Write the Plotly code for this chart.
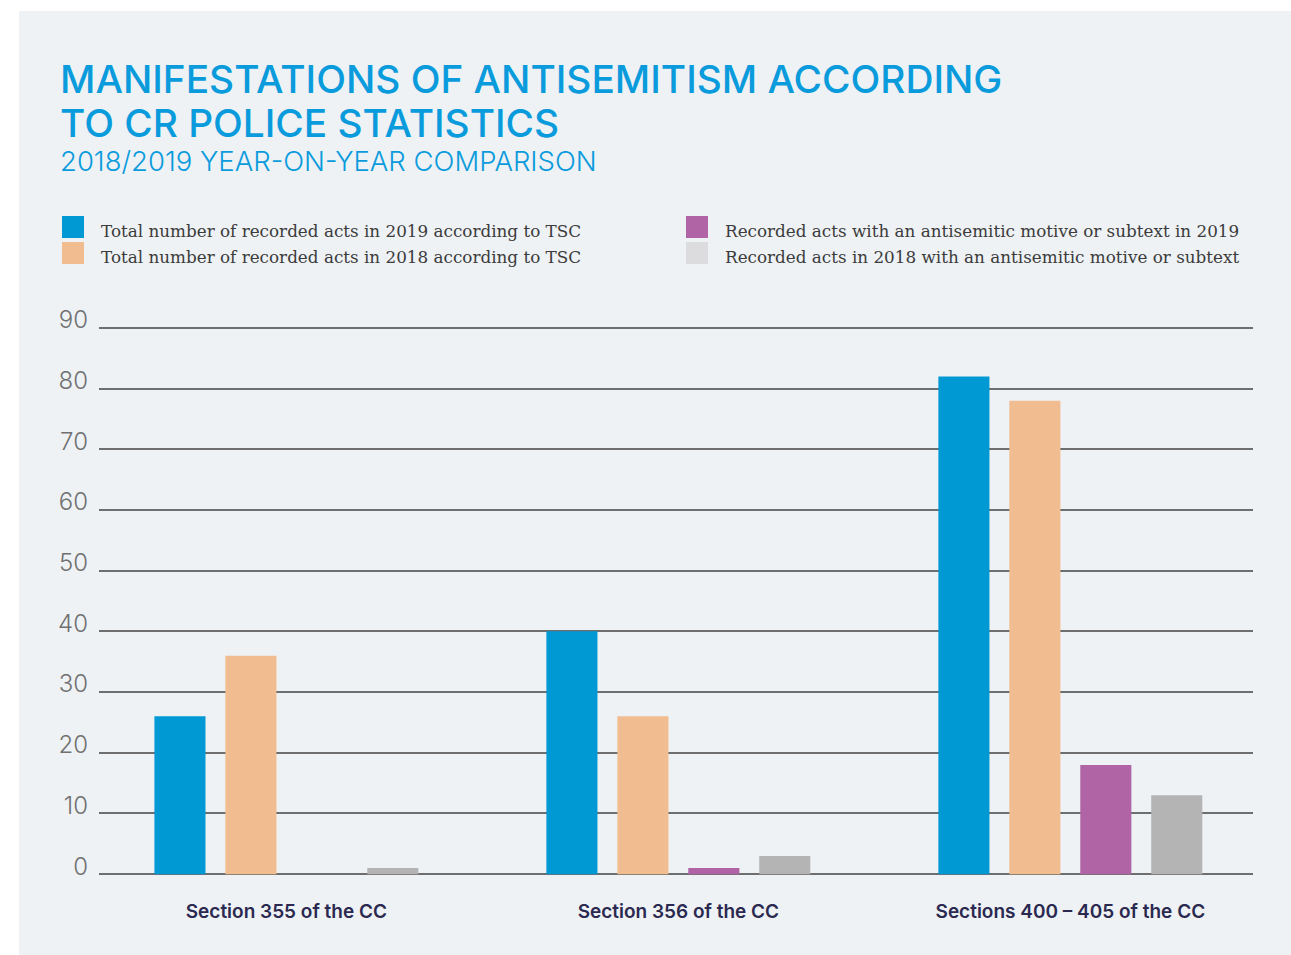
import plotly.graph_objects as go

# ---- data ----
categories = ["Section 355 of the CC", "Section 356 of the CC", "Sections 400 – 405 of the CC"]
series_names = [
    "Total number of recorded acts in 2019 according to TSC",
    "Total number of recorded acts in 2018 according to TSC",
    "Recorded acts with an antisemitic motive or subtext in 2019",
    "Recorded acts in 2018 with an antisemitic motive or subtext",
]
total_2019 = [26, 40, 82]
total_2018 = [36, 26, 78]
antisemitic_2019 = [0, 1, 18]
antisemitic_2018 = [1, 3, 13]
y_ticks = [0, 10, 20, 30, 40, 50, 60, 70, 80, 90]

bar_colors = ["#0099d4", "#f1bc8f", "#b063a5", "#b4b4b4"]
swatch_colors = ["#0099d4", "#f1bc8f", "#b063a5", "#dcdcde"]

W, H = 1291, 955
ML, MR, MT, MB = 99, 38, 326, 79
PW, PH = W - ML - MR, H - MT - MB


def px_x(x):
    return (x - ML) / PW


def px_y(y):
    return (H - MB - y) / PH


fig = go.Figure()
for name, vals, col in zip(series_names, [total_2019, total_2018, antisemitic_2019, antisemitic_2018], bar_colors):
    fig.add_trace(go.Bar(x=categories, y=vals, name=name, marker=dict(color=col, line=dict(width=0)),
                         showlegend=False))

# light panel behind everything
fig.add_shape(type="rect", xref="paper", yref="paper", layer="below",
              x0=px_x(19), x1=px_x(W + 5), y0=px_y(H + 5), y1=px_y(11),
              fillcolor="#eef2f5", line=dict(width=0))

# legend: two columns of square swatches with serif labels
legend_pos = [(62, 216), (62, 242), (686, 216), (686, 242)]
for name, col, (lx, ly) in zip(series_names, swatch_colors, legend_pos):
    fig.add_shape(type="rect", xref="paper", yref="paper",
                  x0=px_x(lx), x1=px_x(lx + 22), y0=px_y(ly + 22), y1=px_y(ly),
                  fillcolor=col, line=dict(width=0))
    fig.add_annotation(xref="paper", yref="paper", x=px_x(lx + 37), y=px_y(ly + 15),
                       text=name, showarrow=False, xanchor="left", yanchor="middle",
                       font=dict(family="DejaVu Serif", size=16.8, color="#3c3c3c"))

# title block
title_font = dict(family="Inter", size=38.8, color="#0a9bdc", weight=500)
fig.add_annotation(xref="paper", yref="paper", x=px_x(58), y=px_y(78),
                   text="MANIFESTATIONS OF ANTISEMITISM ACCORDING", showarrow=False,
                   xanchor="left", yanchor="middle", font=title_font)
fig.add_annotation(xref="paper", yref="paper", x=px_x(58), y=px_y(122),
                   text="TO CR POLICE STATISTICS", showarrow=False,
                   xanchor="left", yanchor="middle", font=title_font)
fig.add_annotation(xref="paper", yref="paper", x=px_x(58), y=px_y(161),
                   text="2018/2019 YEAR-ON-YEAR COMPARISON", showarrow=False,
                   xanchor="left", yanchor="middle",
                   font=dict(family="Inter", size=27.5, color="#0a9bdc", weight=300))

fig.update_layout(
    width=W, height=H,
    margin=dict(l=ML, r=MR, t=MT, b=MB),
    paper_bgcolor="white",
    plot_bgcolor="rgba(0,0,0,0)",
    barmode="group",
    bargap=0.276,
    bargroupgap=0.28,
    showlegend=False,
    xaxis=dict(range=[-0.478, 2.466], showgrid=False, zeroline=False, showline=False, ticks="",
               tickfont=dict(family="Inter", size=19, color="#2b2950", weight=600),
               ticklabelstandoff=22),
    yaxis=dict(range=[-0.3, 90.3], tickvals=y_ticks, showgrid=True, gridcolor="#6e6e6e",
               gridwidth=1.5, zeroline=True, zerolinecolor="#6e6e6e", zerolinewidth=1.5,
               showline=False, ticks="", ticklabelposition="outside",
               ticklabelshift=-8, ticklabelstandoff=10,
               tickfont=dict(family="Inter", size=24, color="#707070", weight=300)),
)

fig.write_html("out.html")
